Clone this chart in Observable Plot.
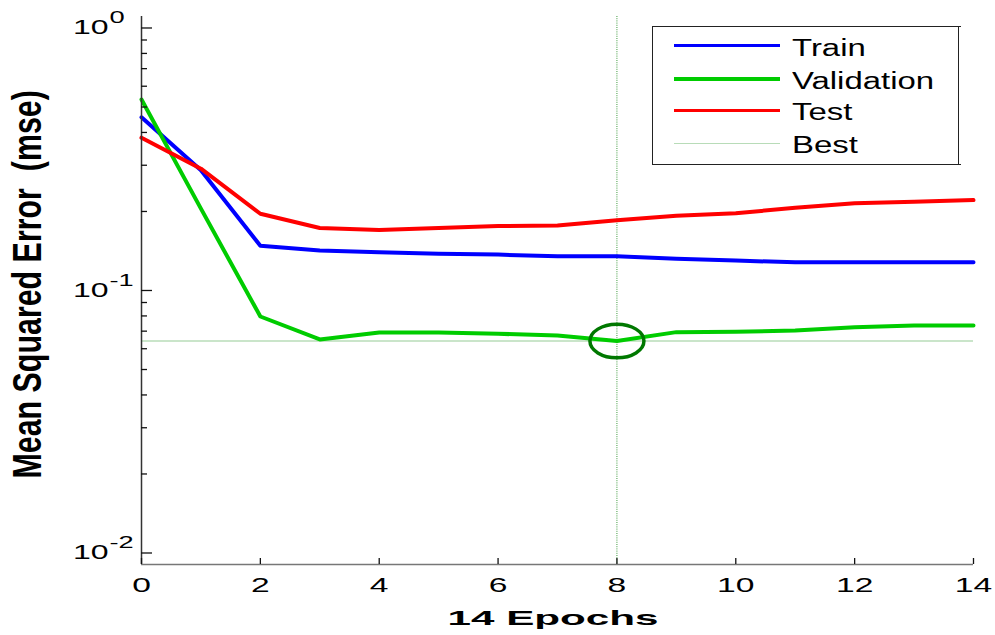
<!DOCTYPE html>
<html><head><meta charset="utf-8">
<script src="https://cdn.jsdelivr.net/npm/d3@7"></script>
<script src="https://cdn.jsdelivr.net/npm/@observablehq/plot@0.6"></script>
<style>
body{margin:0;background:#fff;}
#wrap{position:relative;width:995px;height:635px;font-family:"Liberation Sans",Arial,sans-serif;background:#fff;overflow:hidden;}
#wrap svg{position:absolute;left:0;top:0;}
.lg{position:absolute;}
.lab{position:absolute;font-size:23.5px;line-height:23.5px;transform:scaleX(1.4);transform-origin:left center;white-space:nowrap;color:#000;}
</style></head>
<body><div id="wrap"></div>
<script>
// ---- data ----
const epochs = [0,1,2,3,4,5,6,7,8,9,10,11,12,13,14];
const train = [0.457,0.287,0.148,0.142,0.140,0.138,0.137,0.135,0.135,0.132,0.130,0.128,0.128,0.128,0.128];
const validation = [0.534,0.205,0.0796,0.0651,0.0692,0.0692,0.0684,0.0674,0.0642,0.0694,0.0696,0.0704,0.0725,0.0736,0.0736];
const test = [0.382,0.291,0.196,0.173,0.170,0.173,0.176,0.177,0.185,0.1925,0.197,0.2065,0.215,0.218,0.221];
const bestEpoch = 8;
const bestPerf = 0.0642;
const seriesNames = ["Train","Validation","Test","Best"];
const seriesColors = ["#0000ff","#00cc00","#ff0000","#b8dcb8"];
const xTicks = [0,2,4,6,8,10,12,14];
const yMajor = [0.01,0.1,1];
const yExponents = ["-2","-1","0"];
const yMinor = [0.02,0.03,0.04,0.05,0.06,0.07,0.08,0.09,0.2,0.3,0.4,0.5,0.6,0.7,0.8,0.9];
const yDomain = [0.00904,1.106];
const xLabel = "14 Epochs";
const yLabel = "Mean Squared Error  (mse)";

const ellipse = {draw(ctx){const rx=27, ry=16.8, k=0.5523;
  ctx.moveTo(rx,0);
  ctx.bezierCurveTo(rx,ry*k,rx*k,ry,0,ry);
  ctx.bezierCurveTo(-rx*k,ry,-rx,ry*k,-rx,0);
  ctx.bezierCurveTo(-rx,-ry*k,-rx*k,-ry,0,-ry);
  ctx.bezierCurveTo(rx*k,-ry,rx,-ry*k,rx,0);
  ctx.closePath();}};

const series = [train, validation, test];

const plot = Plot.plot({
  width: 995, height: 635,
  marginLeft: 141, marginRight: 22, marginTop: 16, marginBottom: 71,
  style: {fontFamily: "'Liberation Sans', Arial, sans-serif", fontSize: "20px", color: "#000", background: "transparent"},
  x: {domain: [0,14], axis: null},
  y: {type: "log", domain: yDomain, axis: null},
  marks: [
    Plot.ruleY([bestPerf], {stroke: seriesColors[3], strokeWidth: 1.5}),
    Plot.ruleX([bestEpoch], {stroke: "#3d9a3d", strokeWidth: 1, strokeDasharray: "1,1.2"}),
    ...series.map((s, k) => Plot.line(s, {x: (d,i) => epochs[i], y: d => d, stroke: seriesColors[k], strokeWidth: 4, strokeLinejoin: "round"})),
    Plot.dot([bestPerf], {x: () => bestEpoch, y: d => d, symbol: ellipse, stroke: "#007800", strokeWidth: 3.5, fill: "none"}),
    Plot.ruleX([0], {stroke: "#333", strokeWidth: 1.5}),
    Plot.ruleY([yDomain[0]], {stroke: "#777", strokeWidth: 1.5}),
    Plot.axisY({ticks: [0.01, 0.1, 1], tickSize: -11, tickFormat: () => "", stroke: "#111", strokeWidth: 1.3}),
    Plot.axisY({ticks: yMinor, tickSize: -6, tickFormat: () => "", stroke: "#111", strokeWidth: 1.3}),
    Plot.axisX({ticks: xTicks, tickSize: -6, tickFormat: () => "", stroke: "#111", strokeWidth: 1.3}),
    Plot.text(xTicks, {x: d => d, frameAnchor: "bottom", dy: 21, text: d => String(d), fontSize: 21, lineAnchor: "middle"}),
    Plot.text(yMajor, {y: d => d, frameAnchor: "left", dx: -33, textAnchor: "end", text: () => "10", fontSize: 20, lineAnchor: "middle"}),
    Plot.text(yMajor, {y: d => d, frameAnchor: "left", dx: -32, dy: -10, textAnchor: "start", text: (d,i) => yExponents[i], fontSize: 17, lineAnchor: "middle"}),
    Plot.text([xLabel], {frameAnchor: "bottom", dx: -4.5, dy: 53.5, text: d => d, fontSize: 21, fontWeight: "bold", lineAnchor: "middle"}),
    Plot.text([yLabel], {frameAnchor: "left", dx: -113, dy: 188, rotate: -90, textAnchor: "start", text: d => d, fontSize: 30.4, fontWeight: "bold", lineAnchor: "middle"})
  ]
});

const wrap = document.getElementById("wrap");
wrap.appendChild(plot);

// stretch text horizontally like the reference
plot.querySelectorAll("text").forEach(t => {
  const s = t.textContent;
  if (!s) return;
  if (s === yLabel) {
    const tr = t.getAttribute("transform") || "";
    t.setAttribute("transform", tr.replace("rotate(", "scale(1.33,1) rotate("));
    return;
  }
  const w = t.getComputedTextLength();
  if (!w) return;
  let target = w * 1.6;
  if (s === xLabel) target = 211;
  t.setAttribute("textLength", target.toFixed(1));
  t.setAttribute("lengthAdjust", "spacingAndGlyphs");
});

// legend (HTML overlay)
const box = document.createElement("div");
box.className = "lg";
Object.assign(box.style, {left: "652px", top: "26px", width: "307px", height: "139px", border: "1.5px solid #222", boxSizing: "border-box"});
wrap.appendChild(box);
const brk = document.createElement("div");
brk.className = "lg";
Object.assign(brk.style, {left: "957px", top: "26px", width: "4px", height: "139px", borderTop: "1.5px solid #222", borderBottom: "1.5px solid #222", boxSizing: "border-box"});
wrap.appendChild(brk);
const swY = [45.7, 79, 110.5, 143.3];
const labY = [48.5, 81.5, 112.5, 145.5];
seriesNames.forEach((name, i) => {
  const th = i === 3 ? 1.5 : 3.5;
  const sw = document.createElement("div");
  sw.className = "lg";
  Object.assign(sw.style, {left: "674px", width: "106px", top: (swY[i] - th/2) + "px", height: th + "px", background: seriesColors[i]});
  wrap.appendChild(sw);
  const lb = document.createElement("div");
  lb.className = "lab";
  lb.textContent = name;
  lb.style.left = "792px";
  lb.style.top = (labY[i] - 11.5) + "px";
  wrap.appendChild(lb);
});
</script>
</body></html>
